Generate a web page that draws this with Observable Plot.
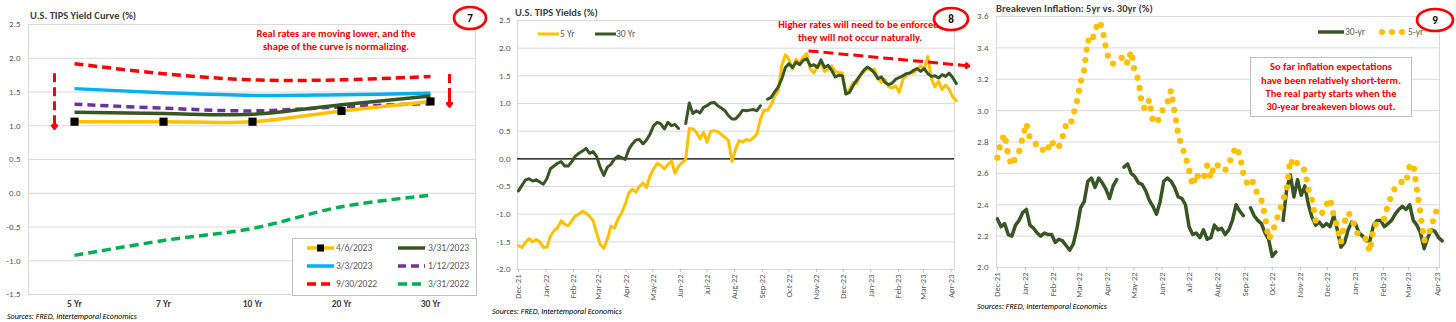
<!DOCTYPE html>
<html><head><meta charset="utf-8">
<script src="https://cdn.jsdelivr.net/npm/d3@7"></script>
<script src="https://cdn.jsdelivr.net/npm/@observablehq/plot@0.6"></script>
<style>
body{margin:0;width:1456px;height:322px;position:relative;background:#fff;font-family:Carlito,Lato,sans-serif;overflow:hidden}
.abs{position:absolute}
.title{font-weight:bold;font-size:10.5px;color:#404040;white-space:nowrap;line-height:13px}
.src{font-style:italic;font-size:8px;color:#000;white-space:nowrap;line-height:9px}
.note{color:#ff0000;font-weight:bold;font-size:10.5px;text-align:center;white-space:nowrap}
.leg{font-size:9.5px;color:#595959;white-space:nowrap;line-height:12px}
svg{overflow:visible}
</style>
</head><body>
<div id="c1" class="abs" style="left:0;top:0"></div>
<div id="c2" class="abs" style="left:485px;top:0"></div>
<div id="c3" class="abs" style="left:970px;top:0"></div>

<div class="abs title" style="left:30px;top:9px">U.S. TIPS Yield Curve (%)</div>
<div class="abs title" style="left:515px;top:6px">U.S. TIPS Yields (%)</div>
<div class="abs title" style="left:996px;top:2px">Breakeven Inflation: 5yr vs. 30yr (%)</div>

<div class="abs src" style="left:7px;top:312px">Sources: FRED, Intertemporal Economics</div>
<div class="abs src" style="left:492px;top:307px">Sources: FRED, Intertemporal Economics</div>
<div class="abs src" style="left:977px;top:302px">Sources: FRED, Intertemporal Economics</div>

<div class="abs note" style="left:336px;top:27px;transform:translateX(-50%);line-height:13px">Real rates are moving lower, and the<br>shape of the curve is normalizing.</div>
<div class="abs note" style="left:860px;top:19px;transform:translateX(-50%);line-height:12.5px">Higher rates will need to be enforced;<br>they will not occur naturally.</div>
<div class="abs note" style="left:1250px;top:57px;width:160px;height:58px;border:1px solid #bfbfbf;background:#fff;display:flex;align-items:center;justify-content:center;line-height:13.3px">So far inflation expectations<br>have been relatively short-term.<br>The real party starts when the<br>30-year breakeven blows out.</div>

<div id="leg1" class="abs" style="left:292px;top:238px;width:183px;height:56px;border:1px solid #bfbfbf;background:#fff"></div>

<svg class="abs" style="left:0;top:0" width="1456" height="322">
  <g font-family="Carlito,Lato,sans-serif" font-weight="bold" font-size="11" text-anchor="middle">
    <ellipse cx="470" cy="18" rx="16" ry="11" fill="#fff" stroke="#ff0000" stroke-width="2.7"/>
    <text x="470" y="22">7</text>
    <ellipse cx="951" cy="19" rx="17" ry="11" fill="#fff" stroke="#ff0000" stroke-width="2.7"/>
    <text x="951" y="23">8</text>
    <ellipse cx="1435" cy="20" rx="18" ry="11" fill="#fff" stroke="#ff0000" stroke-width="2.7"/>
    <text x="1435" y="24">9</text>
  </g>
</svg>

<script>
const FONT = "Carlito, Lato, sans-serif";

// ---------- Chart 7: TIPS yield curve ----------
const tenors = ["5 Yr", "7 Yr", "10 Yr", "20 Yr", "30 Yr"];
const curve_2023_04_06 = [1.06, 1.06, 1.06, 1.22, 1.36];
const curve_2023_03_31 = [1.20, 1.18, 1.17, 1.31, 1.44];
const curve_2023_03_03 = [1.55, 1.49, 1.45, 1.46, 1.48];
const curve_2023_01_12 = [1.32, 1.26, 1.22, 1.28, 1.33];
const curve_2022_09_30 = [1.92, 1.77, 1.68, 1.68, 1.73];
const curve_2022_03_31 = [-0.92, -0.70, -0.52, -0.20, -0.03];
const curveLabels = ["4/6/2023", "3/31/2023", "3/3/2023", "1/12/2023", "9/30/2022", "3/31/2022"];
const yTicks1 = [-1.5, -1.0, -0.5, 0.0, 0.5, 1.0, 1.5, 2.0, 2.5];
const c1ArrowLeft = {tenor: "5 Yr", from: 1.77, to: 0.96};
const c1ArrowRight = {tenor: "30 Yr", from: 1.76, to: 1.29};

// ---------- Chart 8: TIPS yields (sampled every 4 days from 2021-12-01) ----------
const seriesStart = "2021-12-01";
const tips5yr = [
-1.57,-1.60,-1.51,-1.44,-1.50,-1.46,-1.50,-1.60,-1.60,-1.40,
-1.30,-1.25,-1.12,-1.18,-1.21,-1.12,-1.03,-1.00,-0.95,-0.98,
-1.04,-1.12,-1.35,-1.55,-1.62,-1.45,-1.22,-1.25,-1.08,-0.98,
-0.82,-0.62,-0.55,-0.60,-0.50,-0.44,-0.52,-0.30,-0.18,-0.08,
-0.12,-0.18,-0.10,-0.04,-0.26,-0.13,-0.07,-0.01,0.55,0.54,
0.48,0.36,0.48,0.30,0.50,0.51,0.49,0.44,0.39,0.33,
-0.05,0.17,0.33,0.30,0.35,0.33,0.38,0.45,0.72,0.88,
0.88,0.98,1.13,1.23,1.69,1.88,1.80,1.62,1.80,1.73,
1.84,1.90,1.62,1.55,1.69,1.72,1.58,1.62,1.68,1.58,
1.56,1.55,1.18,1.25,1.38,1.36,1.51,1.57,1.63,1.60,
1.62,1.45,1.38,1.43,1.30,1.28,1.32,1.20,1.44,1.50,
1.56,1.55,1.62,1.68,1.62,1.85,1.45,1.30,1.40,1.25,
1.33,1.26,1.12,1.05];
const tips30yr = [
-0.58,-0.48,-0.38,-0.36,-0.40,-0.38,-0.42,-0.46,-0.36,-0.18,
-0.13,-0.08,-0.05,-0.13,-0.13,-0.05,0.05,0.10,0.14,0.19,
0.10,0.13,0.04,-0.16,-0.30,-0.15,-0.10,0.00,0.05,0.02,
-0.01,0.17,0.27,0.34,0.35,0.27,0.34,0.45,0.60,0.66,
0.63,0.54,0.66,0.60,0.62,0.55,null,0.64,1.01,0.82,
0.87,0.83,0.93,0.96,1.01,1.02,0.96,0.92,0.87,0.78,
0.72,0.72,0.79,0.88,0.87,0.88,0.89,0.87,0.96,null,
1.08,1.11,1.21,1.30,1.45,1.65,1.72,1.65,1.75,1.70,
1.78,1.81,1.68,1.70,1.65,1.79,1.65,1.69,1.60,1.48,
1.51,1.50,1.17,1.20,1.32,1.42,1.51,1.60,1.66,1.62,
1.55,1.45,1.48,1.38,1.34,1.37,1.44,1.47,1.50,1.54,
1.55,1.60,1.63,1.58,1.63,1.54,1.49,1.50,1.46,1.52,
1.49,1.55,1.47,1.36];
const yTicks2 = [-2.0, -1.5, -1.0, -0.5, 0.0, 0.5, 1.0, 1.5, 2.0, 2.5];
const monthTicks = ["2021-12-01","2022-01-01","2022-02-01","2022-03-01","2022-04-01","2022-05-01","2022-06-01","2022-07-01","2022-08-01","2022-09-01","2022-10-01","2022-11-01","2022-12-01","2023-01-01","2023-02-01","2023-03-01","2023-04-01"];
const c2Arrow = {x1: "2022-10-23", y1: 1.95, x2: "2023-04-21", y2: 1.68, headFrom: "2023-04-11", headY: 1.695};

// ---------- Chart 9: breakevens (sampled every 4 days from 2021-12-01) ----------
const be30yr = [
2.31,2.26,2.28,2.21,2.20,2.27,2.30,2.35,2.37,2.27,
2.25,2.22,2.20,2.22,2.21,2.21,2.16,2.18,2.17,2.14,
2.11,2.15,2.25,2.38,2.42,2.55,2.57,2.51,2.57,2.54,
2.50,2.44,2.52,2.56,null,2.64,2.66,2.60,2.58,2.54,
2.53,2.49,2.43,2.39,2.34,2.42,2.55,2.57,2.55,2.51,
2.45,2.44,2.40,2.26,2.21,2.22,2.19,2.24,2.18,2.19,
2.27,2.24,2.25,2.21,2.24,2.30,2.40,2.36,2.33,null,
2.38,2.33,2.30,2.28,2.22,2.18,2.07,2.10,null,2.30,
2.50,2.59,2.45,2.56,2.46,2.52,2.40,2.32,2.27,2.29,
2.26,2.28,2.26,2.33,2.24,2.13,2.16,2.24,2.29,2.28,
2.22,2.20,2.17,2.17,2.27,2.30,2.30,2.26,2.28,2.30,
2.34,2.37,2.39,2.37,2.40,2.30,2.27,2.22,2.12,2.19,
2.24,2.23,2.19,2.17];
const be5yr = [
2.70,2.80,2.85,2.71,2.65,2.70,2.74,2.83,2.92,2.82,
2.80,2.78,2.78,2.73,2.76,2.81,2.76,2.77,2.83,2.91,
2.90,2.97,3.06,3.18,3.26,3.45,3.43,3.51,3.57,3.53,
3.40,3.31,3.30,3.32,3.33,3.35,3.30,3.38,3.24,3.20,
3.03,3.01,3.07,2.93,2.92,2.97,3.02,3.05,3.13,2.99,
2.85,2.77,2.71,2.62,2.52,2.60,2.56,2.57,2.65,2.57,
2.66,2.65,2.62,2.62,2.66,2.72,2.77,2.72,2.60,2.54,
2.57,2.53,2.46,2.43,2.33,2.18,2.22,2.29,2.36,2.43,
2.50,2.69,2.64,2.67,2.64,2.62,2.50,2.43,2.30,2.34,
2.35,2.40,2.44,2.33,2.26,2.16,2.29,2.35,2.32,2.24,
2.20,2.19,2.18,2.10,2.25,2.29,2.30,2.31,2.40,2.46,
2.51,2.53,2.55,2.54,2.65,2.66,2.50,2.34,2.17,2.21,
2.25,2.35,2.37,2.34];
const yTicks3 = [2.0, 2.2, 2.4, 2.6, 2.8, 3.0, 3.2, 3.4, 3.6];

// ---------- styles ----------
const YELLOW = "#FFC000", DKGREEN = "#375623", BLUE = "#00B0F0", PURPLE = "#7030A0", RED = "#FF0000", GREEN = "#00B050";
const GRID = "#d9d9d9", AXIS_TEXT = "#595959";

const curveSeries = [
  {label: curveLabels[0], values: curve_2023_04_06, color: YELLOW, dash: null, marker: true},
  {label: curveLabels[1], values: curve_2023_03_31, color: DKGREEN, dash: null},
  {label: curveLabels[2], values: curve_2023_03_03, color: BLUE, dash: null},
  {label: curveLabels[3], values: curve_2023_01_12, color: PURPLE, dash: "8,5"},
  {label: curveLabels[4], values: curve_2022_09_30, color: RED, dash: "9,5"},
  {label: curveLabels[5], values: curve_2022_03_31, color: GREEN, dash: "9,5"}
];
const fmt1 = d => d.toFixed(1);
const day = s => new Date(s + "T00:00:00Z");
const sampleDates = n => d3.range(n).map(i => d3.utcDay.offset(day(seriesStart), 4 * i));

// ---------- Chart 1 ----------
const drawOrder = [5, 4, 3, 2, 1, 0];
const c1 = Plot.plot({
  width: 485, height: 322, marginLeft: 28, marginRight: 10, marginTop: 24, marginBottom: 28,
  style: {fontFamily: FONT, background: "transparent", overflow: "visible"},
  x: {type: "point", domain: tenors, padding: 0.5},
  y: {domain: [-1.5, 2.5]},
  marks: [
    Plot.gridY(yTicks1, {stroke: GRID, strokeOpacity: 1}),
    Plot.frame({stroke: GRID}),
    Plot.axisY(yTicks1, {tickSize: 0, tickPadding: 8, tickFormat: fmt1, fontSize: 9, fill: AXIS_TEXT}),
    Plot.axisX({tickSize: 0, tickPadding: 6, fontSize: 9.5, fontWeight: "bold", fill: "#404040"}),
    ...drawOrder.map(i => {
      const s = curveSeries[i];
      return Plot.line(tenors.map((t, j) => ({t, v: s.values[j]})), {
        x: "t", y: "v", stroke: s.color, strokeWidth: 3.5, strokeDasharray: s.dash || undefined,
        curve: "catmull-rom", strokeLinecap: "butt"
      });
    }),
    Plot.dot(tenors.map((t, j) => ({t, v: curve_2023_04_06[j]})), {x: "t", y: "v", symbol: "square", r: 4.6, fill: "#000"}),
    // red annotation arrows
    Plot.ruleX([c1ArrowLeft], {x: "tenor", y1: "from", y2: d => d.to + 0.12, dx: -20, stroke: RED, strokeWidth: 3, strokeDasharray: "9,5"}),
    Plot.arrow([c1ArrowLeft], {x1: "tenor", x2: "tenor", y1: d => d.to + 0.16, y2: "to", dx: -20, stroke: RED, strokeWidth: 3, headLength: 12, headAngle: 75}),
    Plot.ruleX([c1ArrowRight], {x: "tenor", y1: "from", y2: d => d.to + 0.12, dx: 19, stroke: RED, strokeWidth: 3, strokeDasharray: "9,5"}),
    Plot.arrow([c1ArrowRight], {x1: "tenor", x2: "tenor", y1: d => d.to + 0.16, y2: "to", dx: 19, stroke: RED, strokeWidth: 3, headLength: 12, headAngle: 75})
  ]
});
document.getElementById("c1").append(c1);

// ---------- Chart 2 ----------
const dates2 = sampleDates(tips5yr.length);
const rows2 = dates2.map((date, i) => ({date, t5: tips5yr[i], t30: tips30yr[i]}));
const mt = monthTicks.map(day);
const c2 = Plot.plot({
  width: 485, height: 322, marginLeft: 32, marginRight: 16, marginTop: 20, marginBottom: 53,
  style: {fontFamily: FONT, background: "transparent", overflow: "visible"},
  x: {type: "utc", domain: [day("2021-11-30"), day("2023-04-05")]},
  y: {domain: [-2, 2.5]},
  marks: [
    Plot.gridY(yTicks2, {stroke: GRID, strokeOpacity: 1}),
    Plot.frame({stroke: GRID}),
    Plot.axisY(yTicks2, {tickSize: 0, tickPadding: 7, tickFormat: fmt1, fontSize: 9, fill: AXIS_TEXT}),
    Plot.axisX(mt, {tickSize: 3, tickFormat: () => "", stroke: "#bfbfbf"}),
    Plot.axisX(mt, {tickSize: 0, tickPadding: 5, tickRotate: -90, tickFormat: d3.utcFormat("%b-%y"), fontSize: 8.5, fill: AXIS_TEXT}),
    Plot.ruleY([0], {stroke: "#000", strokeWidth: 1.3}),
    Plot.line(rows2, {x: "date", y: "t5", stroke: YELLOW, strokeWidth: 3}),
    Plot.line(rows2, {x: "date", y: "t30", stroke: DKGREEN, strokeWidth: 3}),
    Plot.link([c2Arrow], {x1: d => day(d.x1), y1: "y1", x2: d => day(d.headFrom), y2: "headY", stroke: RED, strokeWidth: 3, strokeDasharray: "10,5"}),
    Plot.arrow([c2Arrow], {x1: d => day(d.headFrom), y1: "headY", x2: d => day(d.x2), y2: "y2", stroke: RED, strokeWidth: 3, headLength: 13, headAngle: 75})
  ]
});
document.getElementById("c2").append(c2);

// ---------- Chart 3 ----------
const dates3 = sampleDates(be5yr.length);
const rows3 = dates3.map((date, i) => ({date, b5: be5yr[i], b30: be30yr[i]}));
const c3 = Plot.plot({
  width: 486, height: 322, marginLeft: 26, marginRight: 17, marginTop: 16, marginBottom: 55,
  style: {fontFamily: FONT, background: "transparent", overflow: "visible"},
  x: {type: "utc", domain: [day("2021-11-30"), day("2023-04-04")]},
  y: {domain: [2.0, 3.6]},
  marks: [
    Plot.gridY(yTicks3, {stroke: GRID, strokeOpacity: 1}),
    Plot.frame({stroke: GRID}),
    Plot.axisY(yTicks3, {tickSize: 0, tickPadding: 8, tickFormat: fmt1, fontSize: 9, fill: AXIS_TEXT}),
    Plot.axisX(mt, {tickSize: 3, tickFormat: () => "", stroke: "#bfbfbf"}),
    Plot.axisX(mt, {tickSize: 0, tickPadding: 5, tickRotate: -90, tickFormat: d3.utcFormat("%b-%y"), fontSize: 8.5, fill: AXIS_TEXT}),
    Plot.line(rows3, {x: "date", y: "b30", stroke: DKGREEN, strokeWidth: 3.5}),
    Plot.line(rows3, {x: "date", y: "b5", stroke: YELLOW, strokeWidth: 6.2, strokeDasharray: "0,10.5", strokeLinecap: "round"})
  ]
});
document.getElementById("c3").append(c3);

// ---------- Legends ----------
function swatchSVG(color, dash, w, marker, width) {
  return `<svg width="${w}" height="10" style="display:block"><line x1="0" y1="5" x2="${w}" y2="5" stroke="${color}" stroke-width="${width || 3.5}" ${dash ? `stroke-dasharray="${dash}"` : ""}/>${marker ? `<rect x="${w/2-3.5}" y="1.5" width="7" height="7" fill="#000"/>` : ""}</svg>`;
}
const leg1 = document.getElementById("leg1");
curveSeries.forEach((s, i) => {
  const col = i % 2, row = Math.floor(i / 2);
  const sx = col === 0 ? 14 : 105, tx = col === 0 ? 43 : 135;
  const cy = 9 + 18 * row;
  const sw = document.createElement("div");
  sw.className = "abs"; sw.style.left = sx + "px"; sw.style.top = (cy - 5) + "px";
  sw.innerHTML = swatchSVG(s.color, s.dash, 27, s.marker);
  const tx1 = document.createElement("div");
  tx1.className = "abs leg"; tx1.style.left = tx + "px"; tx1.style.top = (cy - 6) + "px";
  tx1.textContent = s.label;
  leg1.append(sw, tx1);
});
function addLegendItem(x, y, html) {
  const d = document.createElement("div");
  d.className = "abs"; d.style.left = x + "px"; d.style.top = y + "px";
  d.innerHTML = html; document.body.append(d);
}
addLegendItem(538, 29, swatchSVG(YELLOW, null, 21, false, 3));
addLegendItem(560, 28, `<div class="leg">5 Yr</div>`);
addLegendItem(595, 29, swatchSVG(DKGREEN, null, 21, false, 3));
addLegendItem(616, 28, `<div class="leg">30 Yr</div>`);
addLegendItem(1318, 27, swatchSVG(DKGREEN, null, 26, false, 3.5));
addLegendItem(1345, 26, `<div class="leg">30-yr</div>`);
addLegendItem(1378, 27, `<svg width="28" height="10" style="display:block"><line x1="4" y1="5" x2="26" y2="5" stroke="${YELLOW}" stroke-width="6" stroke-dasharray="0,10" stroke-linecap="round"/></svg>`);
addLegendItem(1408, 26, `<div class="leg">5-yr</div>`);
</script>
</body></html>
